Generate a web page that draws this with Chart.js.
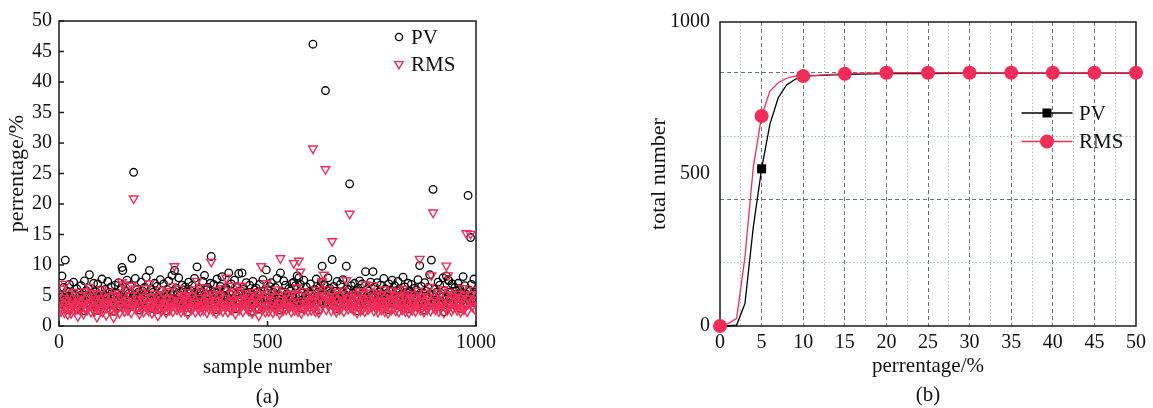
<!DOCTYPE html>
<html lang="en">
<head>
<meta charset="UTF-8">
<title>PV / RMS</title>
<script src="https://cdn.jsdelivr.net/npm/chart.js@4.4.1/dist/chart.umd.min.js"></script>
<style>
    body {
        margin: 0;
        background: #fff;
    }

    #wrap {
        position: relative;
        width: 1153px;
        height: 408px;
    }

    #scatterChart {
        position: absolute;
        left: 0;
        top: 0;
    }

    #countChart {
        position: absolute;
        left: 560px;
        top: 0;
    }
</style>
</head>
<body>
<div id="wrap">
    <canvas id="scatterChart" width="560" height="408"></canvas>
    <canvas id="countChart" width="593" height="408"></canvas>
</div>

<script>
    // (a) per-sample deviation, one value for every odd sample number 1, 3, 5 ... 999
    const pvValues = [
        5.2,4.1,3.6,8.2,4.8,6.3,3.9,10.8,4.4,5.7,2.7,4.9,6.8,4.0,3.5,5.4,4.6,7.2,3.8,5.0,4.3,6.1,2.9,4.7,5.5,
        3.7,6.6,4.5,5.1,2.5,7.4,4.2,5.8,3.9,4.6,6.2,8.4,4.9,3.4,5.3,4.1,7.0,3.6,5.6,4.4,2.6,6.9,4.8,3.8,5.9,
        4.3,7.7,3.5,5.2,4.7,6.0,2.8,4.9,7.3,4.2,5.5,3.7,6.4,4.0,5.0,2.4,4.6,6.7,3.9,5.4,4.1,7.1,3.3,4.8,6.2,
        9.6,9.1,4.4,3.6,5.8,4.9,7.5,3.8,5.3,4.2,6.6,3.4,11.1,4.7,25.2,5.1,7.8,3.9,6.0,4.5,5.6,2.6,4.8,7.2,4.0,
        5.7,3.5,6.3,4.6,8.0,4.1,5.2,3.7,9.1,4.9,6.1,2.9,5.5,4.3,7.0,3.9,4.7,6.5,2.7,5.0,4.4,7.6,3.6,5.8,4.2,
        6.9,4.0,5.3,2.5,6.0,4.8,7.4,3.8,5.1,4.5,8.3,3.6,5.7,9.1,4.3,6.2,3.9,5.4,7.9,4.1,5.0,3.5,6.7,4.6,5.9,
        3.7,6.4,4.9,5.5,2.3,7.2,4.4,5.8,3.9,6.6,4.2,5.1,7.8,3.5,4.7,9.7,5.3,4.0,6.1,3.6,5.6,4.5,7.3,3.8,8.3,
        4.8,5.9,3.4,6.3,4.1,5.2,7.0,11.4,4.6,3.7,6.8,4.9,5.4,2.7,7.7,4.2,5.7,3.9,6.5,4.4,8.1,3.6,5.0,6.0,4.3,
        6.2,4.7,3.5,8.7,5.3,4.0,6.9,3.8,5.6,4.5,7.5,2.8,5.1,6.4,4.3,8.6,3.9,5.8,4.6,8.7,3.6,6.1,4.8,5.4,7.1,
        4.1,5.5,3.7,6.7,4.4,5.0,2.4,7.3,4.9,5.9,3.8,6.2,4.2,5.6,2.8,6.8,4.6,5.2,3.9,7.6,4.3,5.7,3.5,9.2,4.7,
        5.8,3.6,6.5,4.2,7.1,4.8,3.4,5.5,4.0,6.3,3.8,7.8,4.5,5.1,2.6,8.7,4.9,5.6,3.7,7.4,4.3,6.7,3.9,5.3,4.6,
        6.1,4.4,5.7,3.5,7.0,4.7,7.2,3.8,6.6,4.1,8.2,3.6,7.9,4.9,6.8,2.9,5.4,4.3,7.5,3.9,5.0,6.4,4.6,3.7,5.6,
        4.5,6.9,3.8,5.3,46.2,4.2,6.0,3.6,7.7,4.8,5.5,2.6,6.3,4.0,7.2,9.8,5.1,6.8,6.7,38.6,3.9,5.8,7.9,4.6,6.2,
        5.4,3.7,10.9,4.9,6.5,4.1,5.7,2.8,7.3,4.6,5.0,3.9,6.8,4.3,5.6,7.6,3.6,5.2,4.7,9.8,6.1,4.0,5.9,23.3,4.4,
        6.6,4.2,5.3,3.8,7.0,4.9,5.8,2.5,6.2,4.5,7.4,3.7,5.1,6.9,4.1,5.5,3.6,8.9,4.8,6.0,3.9,5.7,4.3,7.2,5.0,
        4.6,8.9,3.7,6.4,5.2,4.0,7.1,3.5,5.6,4.8,6.7,3.9,5.3,4.2,7.8,3.6,6.1,4.7,5.4,2.7,6.9,4.4,5.9,3.8,7.5,
        5.1,4.3,6.6,3.7,5.8,4.9,7.3,3.5,6.0,4.5,5.2,3.9,8.0,4.1,6.4,3.6,5.5,4.8,7.0,2.8,5.7,4.2,6.8,3.8,5.3,
        4.7,6.2,3.6,5.9,4.4,7.6,5.0,9.9,3.8,6.5,4.2,5.4,2.6,7.1,4.9,5.7,3.9,6.3,4.6,8.4,3.7,10.8,5.2,22.4,4.3,
        6.0,3.9,5.5,4.5,7.2,3.6,6.7,4.1,5.3,4.8,7.9,2.3,5.8,4.3,8.2,3.8,7.6,7.4,4.6,5.6,3.7,6.9,4.2,5.1,6.3,
        4.4,5.7,3.8,7.0,4.9,6.1,2.9,5.4,4.2,8.1,3.9,6.6,4.7,5.2,3.6,21.4,5.9,4.1,14.5,6.8,4.5,5.3,7.7,4.0,5.6
    ];
    const rmsValues = [
        3.9,2.8,2.4,6.1,3.5,4.6,2.2,6.9,3.1,4.2,1.9,3.6,5.3,2.7,2.1,4.0,3.3,5.6,2.5,3.7,3.0,4.5,1.6,3.4,4.1,
        2.6,5.0,3.2,3.8,2.0,5.7,2.9,4.4,2.6,3.3,4.8,6.4,3.6,2.3,3.9,2.8,5.4,2.4,4.2,3.1,1.5,5.2,3.5,2.7,4.5,
        3.0,6.0,2.3,3.9,3.4,4.6,1.8,3.6,5.6,2.9,4.1,2.5,4.9,2.8,3.7,1.4,3.3,5.1,2.6,4.0,2.9,5.4,2.1,3.5,4.7,
        7.2,6.8,3.1,2.4,4.3,3.6,5.8,2.6,3.9,3.0,5.0,2.2,6.6,3.4,20.9,3.8,6.1,2.7,4.5,3.2,4.2,2.0,3.5,5.5,2.8,
        4.3,2.3,4.8,3.3,6.2,2.9,3.9,2.5,7.0,3.6,4.6,2.1,4.1,3.0,5.3,2.7,3.4,4.9,1.7,3.7,3.1,5.9,2.4,4.4,3.0,
        5.2,2.8,4.0,2.2,4.5,3.5,5.7,2.6,3.8,3.2,6.5,2.4,4.3,9.8,3.0,4.7,2.7,4.1,6.1,2.9,3.7,2.3,5.1,3.3,4.5,
        2.5,4.9,3.6,4.1,2.0,5.5,3.1,4.4,2.7,5.0,2.9,3.8,6.0,2.3,3.4,7.4,4.0,2.8,4.6,2.4,4.2,3.2,5.6,2.6,6.3,
        3.5,4.5,2.2,4.8,2.9,3.9,5.3,10.5,3.3,2.5,5.2,3.6,4.1,2.1,5.9,3.0,4.3,2.7,4.9,3.1,6.2,2.4,3.7,4.6,3.0,
        7.9,3.4,2.3,6.6,4.0,2.8,5.3,2.6,4.2,3.2,5.7,2.0,3.8,4.9,3.0,6.5,2.7,4.4,3.3,6.6,2.4,4.6,3.5,4.1,5.4,
        2.9,4.2,2.5,5.1,3.1,3.7,2.1,5.6,3.6,4.5,2.6,4.7,2.9,4.0,1.7,5.2,3.3,9.8,2.7,5.8,3.0,4.3,2.3,7.0,3.4,
        4.4,2.4,4.9,2.9,5.4,3.5,2.2,4.2,2.8,4.8,2.6,6.0,3.2,3.8,2.0,11.1,3.6,4.3,2.5,5.6,3.0,5.1,2.7,4.0,3.3,
        4.6,3.1,3.9,2.3,5.3,3.4,10.3,2.6,5.0,2.9,6.3,2.4,10.7,3.6,8.9,2.1,4.1,3.0,5.7,2.7,3.7,4.9,3.3,2.5,4.2,
        3.2,5.2,2.6,4.0,29.1,2.9,4.5,2.4,5.9,3.5,4.2,2.2,4.8,2.8,5.5,7.3,3.8,8.4,5.1,25.7,2.7,4.4,6.0,3.3,4.7,
        4.1,2.5,13.9,3.6,4.9,2.8,4.3,2.3,5.6,3.3,3.7,2.7,5.2,3.0,4.2,5.8,2.4,3.9,3.4,7.5,4.6,2.8,4.5,18.4,3.1,
        5.0,2.9,4.0,2.6,5.3,3.6,4.4,2.2,4.7,3.2,5.7,2.5,3.8,5.2,2.8,4.2,2.4,6.8,3.5,4.6,2.7,4.3,3.0,5.5,3.7,
        3.3,6.7,2.5,4.9,3.9,2.8,5.4,2.3,4.2,3.5,5.1,2.7,4.0,2.9,6.0,2.4,4.6,3.4,4.1,2.1,5.2,3.1,4.5,2.6,5.8,
        3.8,3.0,5.0,2.5,4.4,3.6,5.6,2.3,4.6,3.2,3.9,2.7,6.1,2.9,4.8,2.4,4.2,3.5,5.3,2.2,4.3,2.9,5.2,2.6,4.0,
        3.4,4.7,2.4,4.5,3.1,5.8,3.7,11.0,2.6,4.9,2.9,4.1,2.3,5.4,3.6,4.3,2.7,4.8,3.3,6.4,2.5,8.3,3.9,18.6,3.0,
        4.6,2.7,4.2,3.2,5.5,2.4,5.1,2.9,4.0,3.5,6.0,2.2,4.4,3.0,9.9,2.6,8.3,5.6,3.3,4.3,2.5,5.2,2.9,3.8,4.8,
        3.1,4.3,2.6,5.3,3.6,4.6,2.3,4.1,3.0,6.2,2.7,5.0,3.4,15.2,2.4,4.5,4.5,3.9,15.1,5.2,3.2,4.0,5.9,2.8,4.3
    ];

    // (b) number of samples at or below each percentage
    const pctLevels = [0, 1, 2, 3, 4, 5, 6, 7, 8, 9, 10, 15, 20, 25, 30, 35, 40, 45, 50];
    const pvCount   = [0, 0, 3, 74, 325, 517, 664, 751, 793, 811, 822, 828, 830, 830, 832, 832, 832, 832, 832];
    const rmsCount  = [0, 8, 25, 227, 522, 691, 773, 800, 815, 822, 822, 830, 833, 833, 833, 833, 833, 833, 833];

    // axis ticks for (b)
    const countLabels = [0, 500, 1000];
    const countGridMajor = [416.7, 833.3];
    const countGridMinor = [208.3, 625];

    const RED = "#f22c58";
    const FONT = "'Liberation Serif', 'Times New Roman', serif";

    // box round the plot area, optional short ticks pointing inwards
    const framePlugin = {
        id: "frame",
        beforeDatasetsDraw(chart, args, opts) {
            const { ctx, chartArea: a } = chart;
            ctx.save();
            ctx.strokeStyle = "#1a1a1a";
            ctx.lineWidth = 1.5;
            ctx.strokeRect(a.left, a.top, a.right - a.left, a.bottom - a.top);
            if (opts.ticks) {
                const len = 5;
                const xs = chart.scales.x, ys = chart.scales.y;
                ctx.beginPath();
                xs.ticks.forEach(t => {
                    const px = xs.getPixelForValue(t.value);
                    ctx.moveTo(px, a.bottom);
                    ctx.lineTo(px, a.bottom - len);
                });
                ys.ticks.forEach(t => {
                    const py = ys.getPixelForValue(t.value);
                    ctx.moveTo(a.left, py);
                    ctx.lineTo(a.left + len, py);
                });
                ctx.stroke();
            }
            ctx.restore();
        }
    };

    // legend drawn inside the plot
    const innerLegend = {
        id: "innerLegend",
        afterDraw(chart, args, opts) {
            const ctx = chart.ctx;
            ctx.save();
            ctx.font = "21px " + FONT;
            ctx.textBaseline = "middle";
            chart.data.datasets.forEach((ds, i) => {
                const y = opts.y + i * opts.gap;
                const m = opts.markers[i];
                if (opts.line) {
                    ctx.strokeStyle = ds.borderColor;
                    ctx.lineWidth = ds.borderWidth;
                    ctx.beginPath();
                    ctx.moveTo(opts.x - opts.line / 2, y);
                    ctx.lineTo(opts.x + opts.line / 2, y);
                    ctx.stroke();
                }
                ctx.fillStyle = m.fill;
                ctx.strokeStyle = m.stroke;
                ctx.lineWidth = m.borderWidth;
                Chart.helpers.drawPoint(ctx, {
                    pointStyle: m.style,
                    rotation: m.rotation || 0,
                    radius: m.radius,
                    borderWidth: m.borderWidth
                }, opts.x, y);
                ctx.fillStyle = "#111";
                ctx.fillText(ds.label, opts.textX, y + 1);
            });
            ctx.restore();
        }
    };

    const tickFont = { family: FONT, size: 20 };
    const titleFont = { family: FONT, size: 22 };
    const plainNumber = v => String(v);

    new Chart(document.getElementById("scatterChart"), {
        type: "scatter",
        data: {
            datasets: [{
                label: "PV",
                data: pvValues.map((v, i) => ({ x: 2 * i + 1, y: v })),
                pointStyle: "circle",
                pointRadius: 3.8,
                pointBorderWidth: 1.3,
                pointBorderColor: "#000",
                pointBackgroundColor: "rgba(0,0,0,0)",
                order: 2
            }, {
                label: "RMS",
                data: rmsValues.map((v, i) => ({ x: 2 * i + 1, y: v })),
                pointStyle: "triangle",
                pointRotation: 180,
                pointRadius: 5,
                pointBorderWidth: 1.4,
                pointBorderColor: RED,
                pointBackgroundColor: "rgba(0,0,0,0)",
                order: 1
            }]
        },
        options: {
            responsive: false,
            animation: false,
            devicePixelRatio: 1,
            layout: { padding: { left: 0, right: 84, top: 21, bottom: 0 } },
            plugins: {
                legend: { display: false },
                tooltip: { enabled: false },
                frame: { ticks: true },
                innerLegend: {
                    x: 399, y: 37, gap: 27, textX: 411, line: 0,
                    markers: [
                        { style: "circle", radius: 3.6, borderWidth: 1.3, stroke: "#000", fill: "rgba(0,0,0,0)" },
                        { style: "triangle", rotation: 180, radius: 4.8, borderWidth: 1.4, stroke: RED, fill: "rgba(0,0,0,0)" }
                    ]
                }
            },
            scales: {
                x: {
                    type: "linear",
                    min: 0,
                    max: 1000,
                    afterFit(scale) { scale.height = 82; },
                    grid: { display: false, drawTicks: false },
                    border: { display: false },
                    ticks: { stepSize: 500, padding: 5, maxRotation: 0, color: "#111", font: tickFont, callback: plainNumber },
                    title: {
                        display: true,
                        text: ["sample number", "(a)"],
                        color: "#111",
                        font: { family: FONT, size: 21, lineHeight: "30px" },
                        padding: { top: 0, bottom: -4 }
                    }
                },
                y: {
                    min: 0,
                    max: 50,
                    afterFit(scale) { scale.width = 59; },
                    grid: { display: false, drawTicks: false },
                    border: { display: false },
                    ticks: { stepSize: 5, padding: 7, autoSkip: false, color: "#111", font: tickFont, callback: plainNumber },
                    title: {
                        display: true,
                        text: "perrentage/%",
                        color: "#111",
                        font: titleFont,
                        padding: { top: 4, bottom: 0 }
                    }
                }
            }
        },
        plugins: [framePlugin, innerLegend]
    });

    const atFive = ctx => ctx.raw && ctx.raw.x % 5 === 0;

    function gridColorX(ctx) {
        const v = ctx.tick.value;
        if (v <= 0 || v >= 50) return "rgba(0,0,0,0)";
        return v % 5 === 0 ? "#62777a" : "#a9babb";
    }

    function gridColorY(ctx) {
        const v = ctx.tick.value;
        if (countGridMajor.includes(v)) return "#62777a";
        if (countGridMinor.includes(v)) return "#a9babb";
        return "rgba(0,0,0,0)";
    }

    new Chart(document.getElementById("countChart"), {
        type: "line",
        data: {
            datasets: [{
                label: "PV",
                data: pctLevels.map((p, i) => ({ x: p, y: pvCount[i] })),
                borderColor: "#000",
                borderWidth: 1.3,
                tension: 0,
                clip: false,
                pointStyle: "rect",
                pointRadius: ctx => atFive(ctx) ? 6.4 : 0,
                pointHoverRadius: 0,
                pointBorderWidth: 0,
                pointBackgroundColor: "#000",
                order: 2
            }, {
                label: "RMS",
                data: pctLevels.map((p, i) => ({ x: p, y: rmsCount[i] })),
                borderColor: RED,
                borderWidth: 1.3,
                tension: 0,
                clip: false,
                pointStyle: "circle",
                pointRadius: ctx => atFive(ctx) ? 7 : 0,
                pointHoverRadius: 0,
                pointBorderWidth: 0,
                pointBackgroundColor: RED,
                order: 1
            }]
        },
        options: {
            responsive: false,
            animation: false,
            devicePixelRatio: 1,
            layout: { padding: { left: 80, right: 17, top: 21, bottom: 0 } },
            plugins: {
                legend: { display: false },
                tooltip: { enabled: false },
                frame: { ticks: false },
                innerLegend: {
                    x: 487, y: 113, gap: 28.5, textX: 519, line: 51,
                    markers: [
                        { style: "rect", radius: 6.4, borderWidth: 0, stroke: "#000", fill: "#000" },
                        { style: "circle", radius: 7, borderWidth: 0, stroke: RED, fill: RED }
                    ]
                }
            },
            scales: {
                x: {
                    type: "linear",
                    min: 0,
                    max: 50,
                    afterFit(scale) { scale.height = 82; },
                    grid: { color: gridColorX, lineWidth: 1, drawTicks: false },
                    border: { display: false, dash: ctx => ctx.tick && ctx.tick.value % 5 === 0 ? [4, 3] : [1.5, 2] },
                    ticks: {
                        stepSize: 2.5,
                        autoSkip: false,
                        maxRotation: 0,
                        padding: 5,
                        color: "#111",
                        font: tickFont,
                        callback: v => v % 5 === 0 ? String(v) : ""
                    },
                    title: {
                        display: true,
                        text: ["perrentage/%", "(b)"],
                        color: "#111",
                        font: { family: FONT, size: 21, lineHeight: "29px" },
                        padding: { top: 0, bottom: -2 }
                    }
                },
                y: {
                    min: 0,
                    max: 1000,
                    afterFit(scale) { scale.width = 80; },
                    afterBuildTicks(scale) {
                        scale.ticks = countLabels.concat(countGridMajor, countGridMinor)
                            .sort((a, b) => a - b)
                            .map(v => ({ value: v }));
                    },
                    grid: { color: gridColorY, lineWidth: 1, drawTicks: false },
                    border: { display: false, dash: ctx => ctx.tick && countGridMajor.includes(ctx.tick.value) ? [4, 3] : [1.5, 2] },
                    ticks: {
                        padding: 10,
                        autoSkip: false,
                        color: "#111",
                        font: tickFont,
                        callback: v => countLabels.includes(v) ? String(v) : ""
                    },
                    title: {
                        display: true,
                        text: "total number",
                        color: "#111",
                        font: titleFont,
                        padding: { top: 6, bottom: 0 }
                    }
                }
            }
        },
        plugins: [framePlugin, innerLegend]
    });
</script>
</body>
</html>
